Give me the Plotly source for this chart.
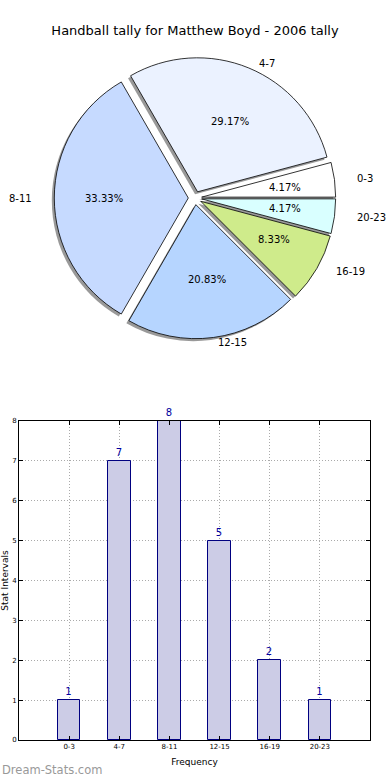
import math
import plotly.graph_objects as go

categories = ["0-3", "4-7", "8-11", "12-15", "16-19", "20-23"]
counts = [1, 7, 8, 5, 2, 1]
pie_colors = ["#FFFFFF", "#EBF2FF", "#C6DAFF", "#B6D5FF", "#CFEB8B", "#D9FFFF"]
y_ticks = [0, 1, 2, 3, 4, 5, 6, 7, 8]

W, H = 390, 780
FONT = "DejaVu Sans"

def px_x(p):
    return p / W

def px_y(p):
    return 1 - p / H

# pie geometry (pixels)
cx, cy, r, pull = 195, 198, 134, 0.05
# the source pie is slightly elliptical; text follows its axes
text_rx, text_ry = 140, 127
half = r * (1 + pull)
dom_x = [px_x(cx - half), px_x(cx + half)]
dom_y = [px_y(cy + half), px_y(cy - half)]
sh = 2.5
shadow_dx = [px_x(cx - half - sh), px_x(cx + half - sh)]
shadow_dy = [px_y(cy + half + sh), px_y(cy - half + sh)]

total = sum(counts)
first_slice_deg = 360.0 * counts[0] / total

fig = go.Figure()

pie_common = dict(labels=categories, values=counts, sort=False,
                  direction="counterclockwise", rotation=90 - first_slice_deg,
                  pull=[pull] * len(counts), showlegend=False)

# shadow
fig.add_trace(go.Pie(
    **pie_common,
    marker=dict(colors=["rgba(70,70,70,0.55)"] * len(counts), line=dict(width=0)),
    textinfo="none", hoverinfo="skip",
    domain=dict(x=shadow_dx, y=shadow_dy),
))
# main pie
fig.add_trace(go.Pie(
    **pie_common,
    marker=dict(colors=pie_colors, line=dict(color="black", width=0.8)),
    textinfo="none", hovertemplate="%{label}: %{percent:.2%}<extra></extra>",
    domain=dict(x=dom_x, y=dom_y),
))

# pie text (percent at 0.6 r, label at 1.1 r, like the source)
annotations = []
start = 0.0
for lab, v in zip(categories, counts):
    ang = 360.0 * v / total
    mid = math.radians(start + ang / 2)
    start += ang
    c, s = math.cos(mid), math.sin(mid)
    ox = cx + pull * text_rx * c
    oy = cy - pull * text_ry * s
    tx = ox + 0.6 * text_rx * c
    ty = oy - 0.6 * text_ry * s
    annotations.append(dict(
        text=f"{100.0 * v / total:.2f}%", x=px_x(tx), y=px_y(ty),
        xref="paper", yref="paper", xanchor="center", yanchor="middle",
        showarrow=False, font=dict(family=FONT, size=10, color="black")))
    lx = ox + 1.1 * text_rx * c
    ly = oy - 1.1 * text_ry * s
    annotations.append(dict(
        text=lab, x=px_x(lx), y=px_y(ly), xref="paper", yref="paper",
        xanchor="left" if c > 0 else "right", yanchor="middle",
        showarrow=False, font=dict(family=FONT, size=10, color="black")))

annotations.append(dict(
    text="Dream-Stats.com", x=0, y=px_y(770), xref="paper", yref="paper",
    xanchor="left", yanchor="middle", showarrow=False,
    font=dict(family=FONT, size=11.5, color="#999999")))

# bar chart
fig.add_trace(go.Bar(
    x=categories, y=counts, width=0.45,
    marker=dict(color="#CCCCE6", line=dict(color="#000080", width=1)),
    text=[str(v) for v in counts], textposition="outside", cliponaxis=False,
    constraintext="none",
    textfont=dict(family=FONT, size=10, color="#0000A0"),
    showlegend=False, xaxis="x", yaxis="y",
    hovertemplate="%{x}: %{y}<extra></extra>",
))

grid_style = dict(showgrid=True, gridcolor="#aaaaaa", griddash="1px,2px", gridwidth=1,
                  showline=True, linecolor="black", linewidth=1, mirror="ticks",
                  ticks="inside", ticklen=4, tickcolor="black",
                  tickfont=dict(family=FONT, size=7, color="black"),
                  zeroline=False, fixedrange=True, automargin=False)

fig.update_layout(
    width=W, height=H,
    margin=dict(l=0, r=0, t=0, b=0),
    paper_bgcolor="white", plot_bgcolor="white",
    font=dict(family=FONT, color="black"),
    title=dict(text="Handball tally for Matthew Boyd - 2006 tally",
               x=0.5, xanchor="center", y=px_y(30), yanchor="middle",
               font=dict(family=FONT, size=13, color="black")),
    xaxis=dict(domain=[px_x(19), px_x(370)], range=[-1, 6], type="category",
               title=dict(text="Frequency", font=dict(family=FONT, size=9, color="black"),
                          standoff=8),
               **grid_style),
    yaxis=dict(domain=[px_y(740), px_y(421)], range=[0, 8], tickvals=y_ticks,
               title=dict(text="Stat Intervals", font=dict(family=FONT, size=9, color="black"),
                          standoff=2),
               **grid_style),
    annotations=annotations,
    bargap=0,
)

fig.write_html("out.html", config={"displayModeBar": False},
               post_script="document.body.style.margin='0px';")
